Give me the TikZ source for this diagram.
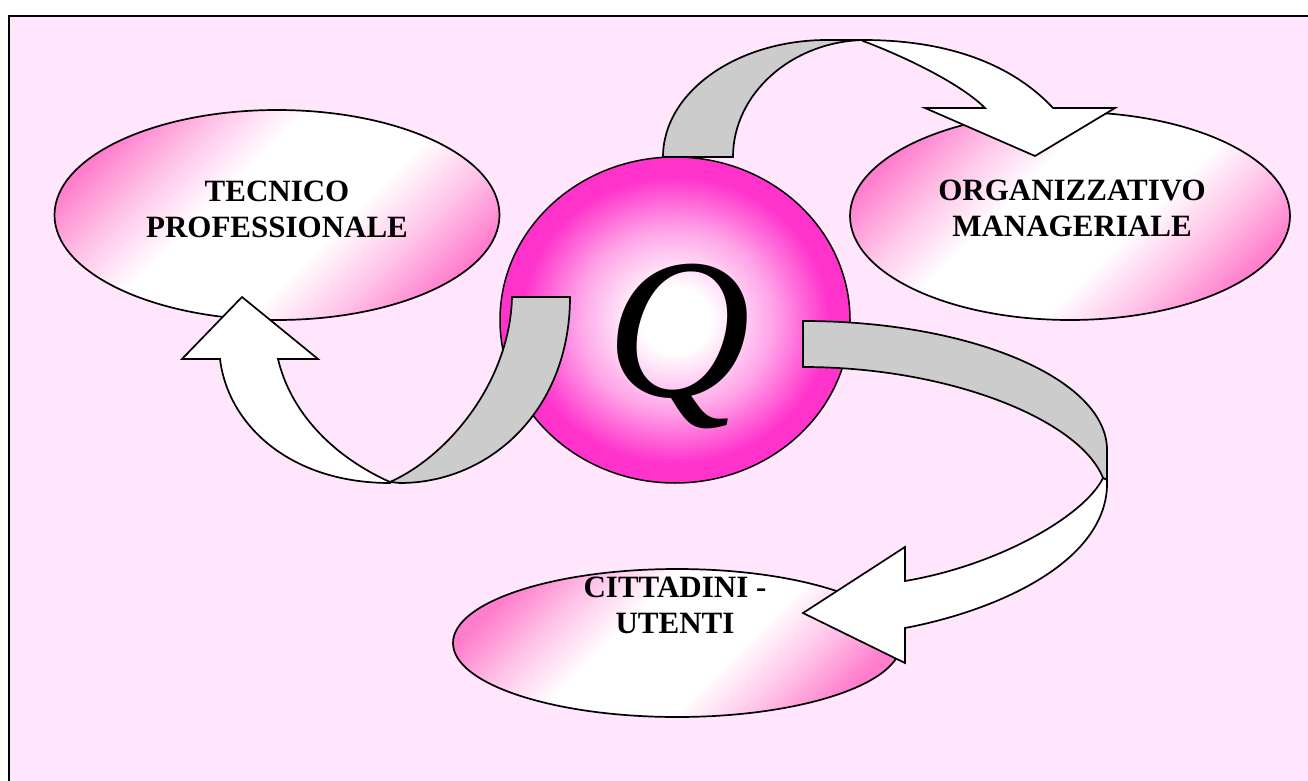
\documentclass[tikz,border=0pt]{standalone}
\usepackage{fontspec}
\setmainfont{Liberation Serif}
\usetikzlibrary{shapes.geometric}
\definecolor{slidepink}{RGB}{255,230,252}
\definecolor{bubblepink}{RGB}{255,125,205}
\definecolor{ballpink}{RGB}{255,51,204}
\definecolor{bandgray}{RGB}{204,204,204}
\pgfdeclarehorizontalshading{bubbleband}{100bp}{color(0bp)=(bubblepink); color(24bp)=(bubblepink); color(33bp)=(bubblepink!45!white); color(42bp)=(white); color(58bp)=(white); color(67bp)=(bubblepink!45!white); color(76bp)=(bubblepink); color(100bp)=(bubblepink)}
\pgfdeclareradialshading{ballglow}{\pgfpoint{0bp}{0bp}}{color(0bp)=(white); color(5bp)=(white); color(14bp)=(ballpink!45!white); color(22bp)=(ballpink); color(50bp)=(ballpink)}
\tikzset{
  bubble/.style={ellipse, draw=black, line width=1.7pt, shade, shading=bubbleband, shading angle=-45, inner sep=0pt},
  bubbletext/.style={align=center, inner sep=0pt, font=\fontsize{31}{36}\selectfont\bfseries},
  qball/.style={ellipse, draw=black, line width=1.5pt, shade, shading=ballglow, inner sep=0pt, text height=153pt, text depth=0pt, font=\fontsize{200}{200}\selectfont\itshape},
  backband/.style={draw=black, line width=1.7pt, fill=bandgray},
  frontband/.style={draw=black, line width=1.7pt, fill=white}
}

\begin{document}
\begin{tikzpicture}[x=1pt,y=-1pt]
		%%%%% START %%%%%
		\useasboundingbox (0,0) rectangle (1308,781);
		\fill[slidepink] (9,16) rectangle (1308,781);
		\draw[line width=1.8pt] (9,781) -- (9,16) -- (1308,16);
		
		\node[bubble, minimum width=445pt, minimum height=210pt] (tecnico) at (277,215) {};
		\node[bubble, minimum width=440pt, minimum height=208pt] (organizz) at (1070,216) {};
		\node[bubble, minimum width=448pt, minimum height=148pt] (cittadini) at (677,643) {};
		\node[bubbletext] (tecnicotext) at (277,209) {TECNICO\\PROFESSIONALE};
		\node[bubbletext] (organizztext) at (1072,208) {ORGANIZZATIVO\\MANAGERIALE};
		\node[bubbletext] (cittadinitext) at (675,605) {CITTADINI -\\UTENTI};
		\node[qball, minimum width=350pt, minimum height=326pt] (qball) at (675,320) {\hspace*{8pt}Q};
		
		% band to the left
		\draw[backband] (512,297) -- (570,297) .. controls (570,410) and (490,483) .. (400,483) -- (390,482) .. controls (450,455) and (510,380) .. cycle;
		\draw[frontband] (390,482) .. controls (330,455) and (290,410) .. (278,359) -- (318,359) -- (242,297) -- (182,359) -- (220,359) .. controls (228,425) and (290,483) .. (390,483) -- cycle;
		
		% band over the top
		\draw[backband] (663,157) .. controls (663,92) and (737,40) .. (827,40) -- (863,40) .. controls (791,42) and (733,94) .. (733,157) -- cycle;
		\draw[frontband] (863,41) .. controls (903,56) and (960,83) .. (985,108) -- (925,108) -- (1035,156) -- (1115,108) -- (1053,108) .. controls (1025,78) and (970,40) .. (863,40) -- cycle;
		
		% band to the right
		\draw[backband] (803,321) .. controls (971,321) and (1107,379) .. (1107,450) -- (1107,480) -- (1103,478) .. controls (1080,420) and (950,367) .. (803,367) -- cycle;
		\draw[frontband] (1103,478) -- (1107,480) .. controls (1110,560) and (1000,610) .. (905,628) -- (905,663) -- (803,613) -- (905,547) -- (905,581) .. controls (1000,565) and (1085,515) .. (1103,478) -- cycle;
		%%%%% END %%%%%
\end{tikzpicture}
\end{document}
